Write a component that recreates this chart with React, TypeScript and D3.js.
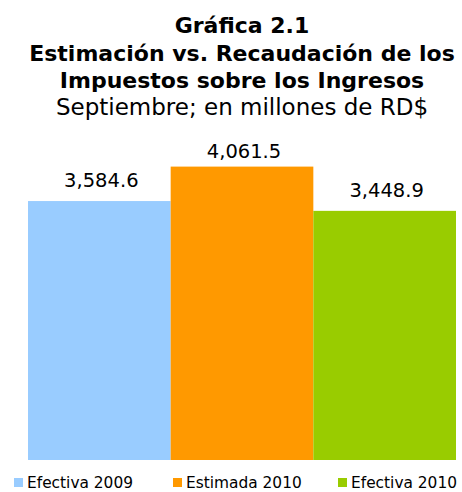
import React from "react";
import * as d3 from "d3";

const categories = ["Efectiva 2009", "Estimada 2010", "Efectiva 2010"];
const values = [3584.6, 4061.5, 3448.9];
const colors = ["#99CCFF", "#FF9900", "#99CC00"];
const titleLines = ["Gráfica 2.1", "Estimación vs. Recaudación de los", "Impuestos sobre los Ingresos"];
const subtitle = "Septiembre; en millones de RD$";

const W = 462;
const H = 492;
const font = "'DejaVu Sans', Verdana, sans-serif";

export default function App() {
  const x = d3.scaleBand<string>().domain(categories).range([28, 456]).padding(0);
  const y = d3.scaleLinear().domain([0, 4061.5]).range([460, 166.6]);
  const fmt = d3.format(",.1f");
  const legendX = [14, 173, 338];
  return (
    <svg width={W} height={H} style={{ position: "absolute", left: 0, top: 0 }}>
      <rect width={W} height={H} fill="#fff" />
      {titleLines.map((t, i) => (
        <text key={t} x={242} y={33 + i * 27.5} textAnchor="middle" fontFamily={font} fontWeight="bold" fontSize={22} fill="#000">
          {t}
        </text>
      ))}
      <text x={242} y={115} textAnchor="middle" fontFamily={font} fontSize={23} fill="#000">
        {subtitle}
      </text>
      {categories.map((c, i) => (
        <g key={c}>
          <rect x={x(c)} y={y(values[i])} width={x.bandwidth()} height={y(0) - y(values[i])} fill={colors[i]} />
          <text
            x={(x(c) as number) + x.bandwidth() / 2 + 2}
            y={Math.max(y(values[i]) - 14, 158)}
            textAnchor="middle"
            fontFamily={font}
            fontSize={19.5}
            fill="#000"
          >
            {fmt(values[i])}
          </text>
        </g>
      ))}
      {categories.map((c, i) => (
        <g key={"l" + c}>
          <rect x={legendX[i]} y={478} width={9} height={9} fill={colors[i]} />
          <text x={legendX[i] + 13} y={488} fontFamily={font} fontSize={15.4} fill="#000">
            {c}
          </text>
        </g>
      ))}
    </svg>
  );
}
